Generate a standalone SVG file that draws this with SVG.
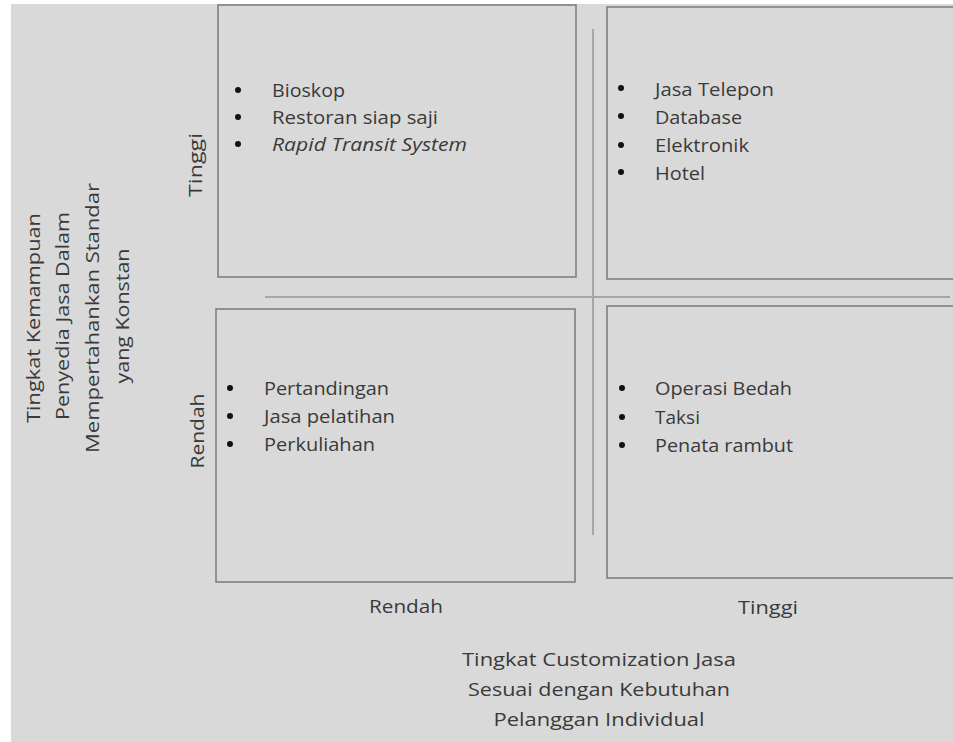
<svg xmlns="http://www.w3.org/2000/svg" width="953" height="742" viewBox="0 0 953 742">
  <style>
    .box { fill: none; stroke: #7f7f7f; stroke-width: 1.6; }
    .axis { stroke: #a6a6a6; stroke-width: 2; fill: none; }
    .item { font-family: "Open Sans", "Liberation Sans", sans-serif; font-size: 19px; fill: #3a3a3a; }
    .lbl { font-family: "Open Sans", "Liberation Sans", sans-serif; font-size: 19px; fill: #3a3a3a; text-anchor: middle; }
    .dot { fill: #111; }
  </style>
  <rect x="0" y="0" width="953" height="742" fill="#ffffff"/>
  <rect x="11" y="4" width="942" height="738" fill="#d9d9d9"/>

  <!-- dividing cross -->
  <g id="connectors">
    <line class="axis" x1="265" y1="297" x2="950" y2="297"/>
    <line class="axis" x1="593" y1="29" x2="593" y2="535"/>
  </g>

  <!-- quadrant: high standard, low customization -->
  <g id="q-top-left">
    <rect class="box" x="218" y="5" width="358" height="272"/>
    <circle class="dot" cx="238" cy="90" r="3"/>
    <circle class="dot" cx="238" cy="117" r="3"/>
    <circle class="dot" cx="238" cy="144" r="3"/>
    <text class="item" x="272" y="97" textLength="73" lengthAdjust="spacingAndGlyphs">Bioskop</text>
    <text class="item" x="272" y="124" textLength="166" lengthAdjust="spacingAndGlyphs">Restoran siap saji</text>
    <text class="item" x="272" y="151" font-style="italic" textLength="195" lengthAdjust="spacingAndGlyphs">Rapid Transit System</text>
  </g>

  <!-- quadrant: high standard, high customization -->
  <g id="q-top-right">
    <rect class="box" x="607" y="7" width="360" height="272"/>
    <circle class="dot" cx="621" cy="88" r="3"/>
    <circle class="dot" cx="621" cy="116" r="3"/>
    <circle class="dot" cx="621" cy="145" r="3"/>
    <circle class="dot" cx="621" cy="172" r="3"/>
    <text class="item" x="655" y="96" textLength="119" lengthAdjust="spacingAndGlyphs">Jasa Telepon</text>
    <text class="item" x="655" y="124" textLength="87" lengthAdjust="spacingAndGlyphs">Database</text>
    <text class="item" x="655" y="152" textLength="94" lengthAdjust="spacingAndGlyphs">Elektronik</text>
    <text class="item" x="655" y="180" textLength="50" lengthAdjust="spacingAndGlyphs">Hotel</text>
  </g>

  <!-- quadrant: low standard, low customization -->
  <g id="q-bottom-left">
    <rect class="box" x="216" y="309" width="359" height="273"/>
    <circle class="dot" cx="230" cy="388" r="3"/>
    <circle class="dot" cx="230" cy="416" r="3"/>
    <circle class="dot" cx="230" cy="444" r="3"/>
    <text class="item" x="264" y="395" textLength="125" lengthAdjust="spacingAndGlyphs">Pertandingan</text>
    <text class="item" x="264" y="423" textLength="131" lengthAdjust="spacingAndGlyphs">Jasa pelatihan</text>
    <text class="item" x="264" y="451" textLength="111" lengthAdjust="spacingAndGlyphs">Perkuliahan</text>
  </g>

  <!-- quadrant: low standard, high customization -->
  <g id="q-bottom-right">
    <rect class="box" x="607" y="306" width="360" height="272"/>
    <circle class="dot" cx="622" cy="388" r="3"/>
    <circle class="dot" cx="622" cy="417" r="3"/>
    <circle class="dot" cx="622" cy="445" r="3"/>
    <text class="item" x="655" y="395" textLength="137" lengthAdjust="spacingAndGlyphs">Operasi Bedah</text>
    <text class="item" x="655" y="424" textLength="45" lengthAdjust="spacingAndGlyphs">Taksi</text>
    <text class="item" x="655" y="452" textLength="138" lengthAdjust="spacingAndGlyphs">Penata rambut</text>
  </g>

  <!-- vertical axis labels -->
  <g id="y-axis-labels">
    <text class="lbl" transform="translate(202,165) rotate(-90)" textLength="64" lengthAdjust="spacingAndGlyphs">Tinggi</text>
    <text class="lbl" transform="translate(204,431) rotate(-90)" textLength="75" lengthAdjust="spacingAndGlyphs">Rendah</text>
  </g>

  <g id="y-axis-title">
    <text class="lbl" transform="translate(40,318) rotate(-90)" textLength="210" lengthAdjust="spacingAndGlyphs">Tingkat Kemampuan</text>
    <text class="lbl" transform="translate(69,316) rotate(-90)" textLength="208" lengthAdjust="spacingAndGlyphs">Penyedia Jasa Dalam</text>
    <text class="lbl" transform="translate(99,318) rotate(-90)" textLength="270" lengthAdjust="spacingAndGlyphs">Mempertahankan Standar</text>
    <text class="lbl" transform="translate(129,316) rotate(-90)" textLength="135" lengthAdjust="spacingAndGlyphs">yang Konstan</text>
  </g>

  <!-- horizontal axis labels -->
  <g id="x-axis-labels">
    <text class="lbl" x="406" y="613" textLength="74" lengthAdjust="spacingAndGlyphs">Rendah</text>
    <text class="lbl" x="768" y="614" textLength="60" lengthAdjust="spacingAndGlyphs">Tinggi</text>
  </g>

  <g id="x-axis-title">
    <text class="lbl" x="599" y="666" textLength="274" lengthAdjust="spacingAndGlyphs">Tingkat Customization Jasa</text>
    <text class="lbl" x="599" y="696" textLength="262" lengthAdjust="spacingAndGlyphs">Sesuai dengan Kebutuhan</text>
    <text class="lbl" x="599" y="726" textLength="211" lengthAdjust="spacingAndGlyphs">Pelanggan Individual</text>
  </g>
</svg>
